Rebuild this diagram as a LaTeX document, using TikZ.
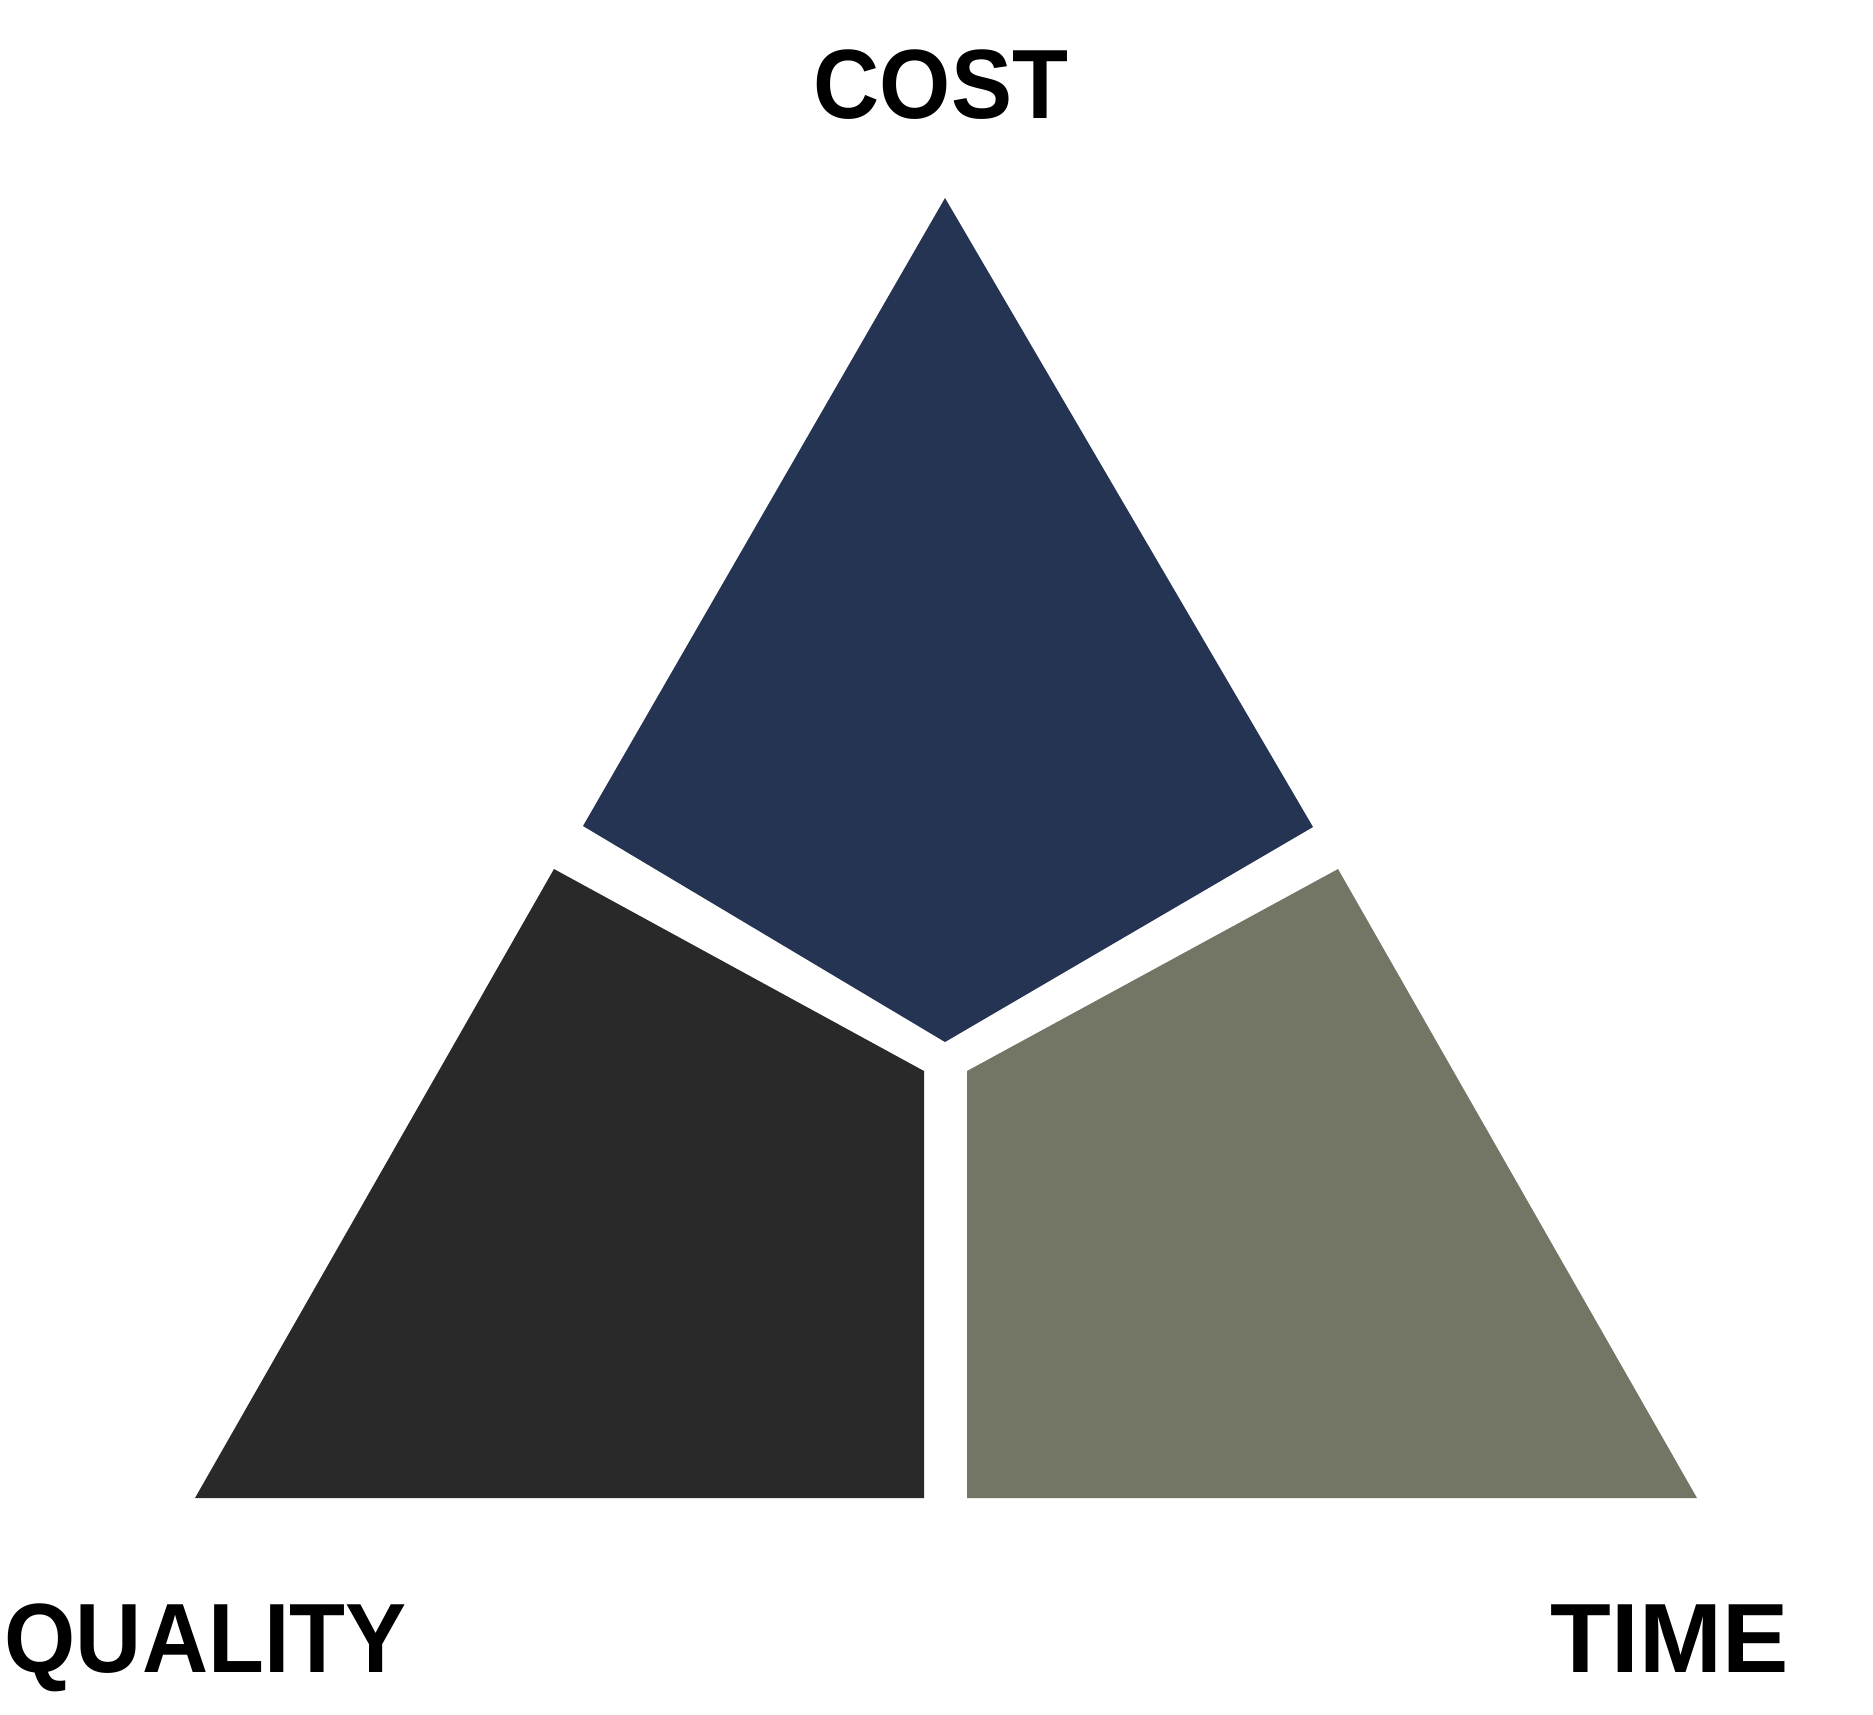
\documentclass[tikz,border=0pt]{standalone}
\usepackage{fontspec}
\setmainfont{Liberation Sans}[FakeStretch=0.93]
\newfontfamily\widefont{Liberation Sans}[FakeStretch=1.01]
\definecolor{costblue}{RGB}{37,52,82}
\definecolor{qualdark}{RGB}{42,41,41}
\definecolor{timegreen}{RGB}{115,118,101}
\tikzset{
  label/.style={inner sep=0pt,font=\fontsize{28}{30}\selectfont\bfseries},
}
\begin{document}
\begin{tikzpicture}[x=0.01cm,y=-0.01cm]
\useasboundingbox (0,0) rectangle (1873,1714);
\fill [costblue] (945,198) -- (1313,827) -- (945,1042) -- (583,826) -- cycle;
\fill [qualdark] (554,869) -- (924,1071) -- (924,1498) -- (195,1498) -- cycle;
\fill [timegreen] (1338,869) -- (1697,1498) -- (967,1498) -- (967,1071) -- cycle;
\node [label,anchor=base] (cost) at (941,118) {COST};
\node [label,anchor=base west] (quality) at (4,1672) {QUALITY};
\node [label,font=\fontsize{28}{30}\widefont\bfseries,anchor=base east] (time) at (1789,1672) {TIME};
\end{tikzpicture}
\end{document}
